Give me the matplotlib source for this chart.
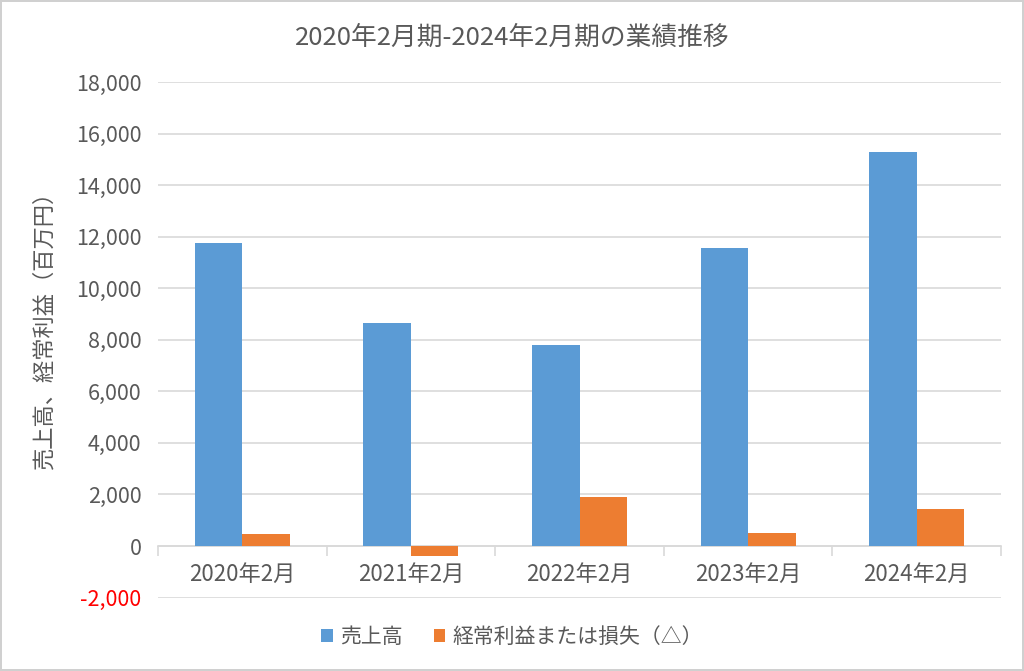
import numpy as np
import matplotlib.pyplot as plt
from matplotlib.ticker import FixedLocator, FuncFormatter

plt.rcParams['font.family'] = ['Noto Sans CJK JP', 'DejaVu Sans']

categories = ['2020年2月', '2021年2月', '2022年2月', '2023年2月', '2024年2月']
sales = [11750, 8650, 7800, 11550, 15270]
ordinary = [470, -380, 1910, 490, 1420]
series_names = ['売上高', '経常利益または損失（△）']
yticks = list(range(-2000, 18001, 2000))

blue = '#5b9bd5'
orange = '#ed7d31'
gray_txt = '#595959'
grid_col = '#d9d9d9'

fig = plt.figure(figsize=(10.24, 6.71), dpi=100)
fig.patch.set_edgecolor('#d0d0d0')
fig.patch.set_linewidth(1.5)
ax = fig.add_axes([158/1024, 1-597.6/671, (1001-158)/1024, (597.6-82)/671])

x = np.arange(len(categories))
w = 0.282
ax.bar(x - w/2, sales, w, color=blue, label=series_names[0], zorder=3)
ax.bar(x + w/2, ordinary, w, color=orange, label=series_names[1], zorder=3)

ax.set_xlim(-0.5, len(categories) - 0.5)
ax.set_ylim(-2000, 18000)
ax.set_yticks(yticks)
ax.yaxis.set_major_formatter(FuncFormatter(lambda v, p: f'{int(v):,}'))
ax.tick_params(axis='y', length=0, labelsize=15.5, labelcolor=gray_txt, pad=12)
for lab in ax.get_yticklabels():
    if lab.get_text().startswith('-'):
        lab.set_color('red')
ax.grid(axis='y', color=grid_col, linewidth=1.2, zorder=0)

for s in ['top', 'right', 'left']:
    ax.spines[s].set_visible(False)
ax.spines['bottom'].set_position(('data', 0))
ax.spines['bottom'].set_color(grid_col)
ax.spines['bottom'].set_linewidth(1.2)
ax.spines['bottom'].set_zorder(2)

ax.xaxis.set_major_locator(FixedLocator(np.arange(-0.5, len(categories), 1.0)))
ax.xaxis.set_major_formatter(FuncFormatter(lambda v, p: ''))
ax.xaxis.set_minor_locator(FixedLocator(x))
ax.set_xticks(x, categories, minor=True)
ax.tick_params(axis='x', which='major', length=7, color=grid_col, width=1.2)
ax.tick_params(axis='x', which='minor', length=0, labelsize=16, labelcolor=gray_txt, pad=12)

ax.set_ylabel('売上高、経常利益（百万円）', fontsize=16, color=gray_txt)
ax.yaxis.set_label_coords(-0.122, 0.53)
fig.text(0.5, 1-38/671, '2020年2月期-2024年2月期の業績推移', ha='center', va='center',
         fontsize=18.5, color=gray_txt)

leg = fig.legend(loc='center', bbox_to_anchor=(0.5, 1-637/671), ncol=2, frameon=False,
                 fontsize=15, handlelength=0.55, handleheight=0.55, columnspacing=1.5,
                 handletextpad=0.35)
for t in leg.get_texts():
    t.set_color(gray_txt)

fig.savefig('out.png', dpi=100)
